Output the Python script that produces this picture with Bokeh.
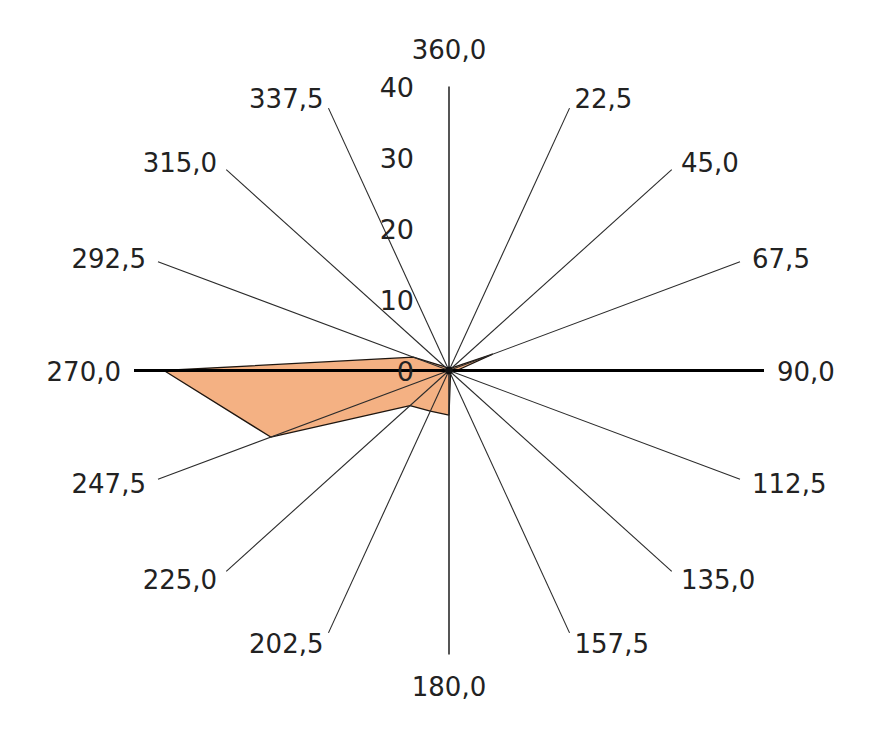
import numpy as np
from bokeh.plotting import figure
from bokeh.models import Range1d, ColumnDataSource
from bokeh.embed import file_html
from bokeh.resources import INLINE
from bokeh.core.properties import value

# ---- data ----
directions = [0.0, 22.5, 45.0, 67.5, 90.0, 112.5, 135.0, 157.5,
              180.0, 202.5, 225.0, 247.5, 270.0, 292.5, 315.0, 337.5]
direction_labels = ["360,0", "22,5", "45,0", "67,5", "90,0", "112,5", "135,0", "157,5",
                    "180,0", "202,5", "225,0", "247,5", "270,0", "292,5", "315,0", "337,5"]
frequency = [0.3, 0.3, 0.5, 6.0, 1.0, 0.3, 0.3, 0.5,
             6.3, 6.2, 7.0, 24.5, 36.2, 4.9, 0.7, 0.3]
radial_ticks = [0, 10, 20, 30, 40]
radial_tick_labels = ["0", "10", "20", "30", "40"]
r_max = 40

# ---- layout ----
W, H = 857, 723
sx, sy = 7.875, 7.1          # px per unit horizontally / vertically
cx, cy = 448.5, 370.0        # centre in figure pixels
FONT = "DejaVu Sans"

p = figure(width=W, height=H, output_backend="svg", toolbar_location=None,
           x_range=Range1d(-cx / sx, (W - cx) / sx),
           y_range=Range1d(-(H - cy) / sy, cy / sy),
           min_border=0, outline_line_color=None)
p.axis.visible = False
p.grid.visible = False
p.background_fill_color = "white"
p.border_fill_color = "white"

th = np.radians(np.array(directions))
vals = np.array(frequency)

# polygon
px = list(vals * np.sin(th))
py = list(vals * np.cos(th))
p.patch(px, py, fill_color="#F4B183", line_color="#1e1610", line_width=1.3)

# spokes
for d in directions:
    t = np.radians(d)
    ex, ey = r_max * np.sin(t), r_max * np.cos(t)
    if d in (90.0, 270.0):
        lw, col = 3, "#000000"
    elif d in (0.0, 180.0):
        lw, col = 1.6, "#2b2b2b"
    else:
        lw, col = 1.1, "#2b2b2b"
    p.line([0, ex], [0, ey], line_width=lw, line_color=col)

# centre dot
p.scatter([0], [0], size=7, color="#111111")

# category labels
groups = {"left": dict(x=[], y=[], text=[], xo=[], yo=[]),
          "right": dict(x=[], y=[], text=[], xo=[], yo=[]),
          "center": dict(x=[], y=[], text=[], xo=[], yo=[])}
for d, lab in zip(directions, direction_labels):
    t = np.radians(d)
    ex, ey = r_max * np.sin(t), r_max * np.cos(t)
    s, c = np.sin(t), np.cos(t)
    if abs(s) < 1e-6:
        g = "center"
        xo = 0
        yo = -38 if c > 0 else 31
    else:
        g = "left" if s > 0 else "right"
        xo = 13 * s
        yo = -11 * c
    groups[g]["x"].append(ex)
    groups[g]["y"].append(ey)
    groups[g]["text"].append(lab)
    groups[g]["xo"].append(xo)
    groups[g]["yo"].append(yo)

for align, gd in groups.items():
    src = ColumnDataSource(gd)
    p.text(x="x", y="y", text="text", x_offset="xo", y_offset="yo", source=src,
           text_align=align, text_baseline="middle",
           text_font=value(FONT), text_font_size="26px", text_color="#222222")

# radial labels
rsrc = ColumnDataSource(dict(x=[0] * len(radial_ticks), y=radial_ticks, text=radial_tick_labels))
p.text(x="x", y="y", text="text", source=rsrc, x_offset=-35,
       text_align="right", text_baseline="middle",
       text_font=value(FONT), text_font_size="27px", text_color="#222222")

open("out.html", "w").write(file_html(p, INLINE))
